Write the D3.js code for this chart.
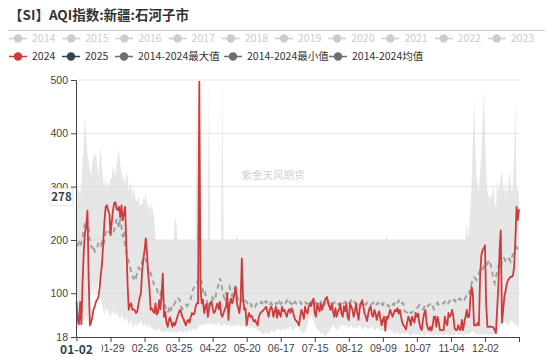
<!DOCTYPE html>
<html><head><meta charset="utf-8">
<script src="https://cdn.jsdelivr.net/npm/d3@7"></script>
<style>body{margin:0;background:#fff;}svg{display:block;font-family:"Noto Sans CJK SC","Open Sans",sans-serif;}</style>
</head><body><svg id="c" width="550" height="357"></svg>
<script>
const title = "【SI】AQI指数:新疆:石河子市";
const legendRow1 = ["2014","2015","2016","2017","2018","2019","2020","2021","2022","2023"];
const legendRow2 = ["2024","2025","2014-2024最大值","2014-2024最小值","2014-2024均值"];
const xTickLabels = ["01-02","01-29","02-26","03-25","04-22","05-20","06-17","07-15","08-12","09-09","10-07","11-04","12-02"];
const yTicks = [18,100,200,300,400,500];
const pointerX = "01-02";
const pointerY = 278;
const watermark = "紫金天风期货";

const s2024 = [84,50,42,84,42,120,180,215,225,255,
130,40,45,56,70,75,84,88,93,110,
135,155,195,235,262,265,255,250,209,234,
255,269,271,258,256,262,243,265,237,250,
262,190,118,69,78,81,69,70,68,63,
66,80,92,100,143,165,180,203,175,135,
110,69,72,66,63,81,60,64,87,70,
100,137,56,65,45,37,50,55,45,37,
45,40,48,56,62,69,65,56,52,45,
40,48,50,45,56,63,60,62,75,81,
81,497,112,81,88,63,75,80,56,70,
81,85,72,63,66,75,81,70,84,60,
56,63,70,75,100,50,81,90,81,88,
100,112,81,72,63,85,165,93,69,72,
40,55,63,56,58,52,47,50,44,40,
56,62,65,66,69,72,75,66,56,69,
75,70,56,66,75,54,69,62,56,75,
66,69,62,56,66,70,63,72,66,56,
50,48,45,40,56,69,62,52,75,66,
62,75,81,76,85,90,62,56,81,72,
66,81,69,78,85,90,93,81,75,69,
81,66,56,72,56,66,69,81,62,56,
76,66,81,56,50,81,75,69,56,66,
81,63,50,72,81,87,75,62,56,48,
62,72,75,60,56,69,62,50,60,66,
52,40,50,56,30,56,52,60,69,62,
56,63,69,66,72,62,69,56,45,40,
37,32,45,56,50,40,56,50,45,63,
56,62,45,35,31,50,62,69,45,35,
31,37,30,40,56,56,37,56,45,31,
31,31,31,56,45,40,63,56,60,69,
56,35,31,31,40,33,31,50,31,45,
56,69,55,56,90,112,100,40,40,40,
45,40,131,171,181,184,190,80,37,37,
38,37,37,36,31,25,69,112,180,218,
45,69,95,105,118,125,128,131,131,133,
150,200,262,237,258];

const sMean = [192,190,195,188,196,205,220,232,228,235,
225,195,188,185,190,178,180,185,196,195,
190,195,188,200,215,218,213,216,214,210,
212,218,230,240,232,222,245,225,205,215,
190,178,165,160,150,140,132,128,135,130,
140,148,145,150,158,165,168,162,155,140,
135,138,130,122,115,112,110,100,95,98,
104,92,85,75,68,64,70,63,72,80,
78,82,88,92,90,87,75,70,72,74,
78,76,80,82,90,100,108,112,116,118,
125,130,126,120,105,95,100,90,72,78,
85,88,92,86,90,100,110,118,128,120,
105,95,90,100,98,106,112,100,95,105,
110,100,96,88,90,92,88,84,90,86,
84,80,78,82,76,80,78,75,80,76,
78,80,84,82,88,85,82,86,84,80,
82,78,80,84,80,82,78,84,80,82,
80,84,82,86,80,84,82,80,86,82,
84,80,78,82,84,80,82,86,84,80,
82,86,80,84,88,82,80,84,86,82,
80,84,86,82,78,84,90,86,82,80,
84,80,82,86,84,80,78,82,84,80,
82,84,80,78,82,84,86,80,82,84,
80,82,84,78,80,84,82,80,78,82,
80,76,78,80,82,78,76,80,82,78,
76,80,78,82,80,76,78,75,80,82,
80,78,84,80,82,86,80,78,82,80,
66,65,64,68,66,63,64,66,68,70,
72,74,78,76,72,70,74,78,80,76,
78,80,82,76,70,74,78,82,78,76,
78,80,82,84,80,78,82,86,84,82,
86,88,84,82,86,90,88,92,90,88,
92,96,94,100,112,118,125,130,128,125,
131,138,143,140,145,150,153,158,155,160,
162,150,140,125,119,131,140,150,153,148,
162,168,165,160,158,163,165,160,168,172,
175,180,187,184,186];

const sMax = [295,300,290,285,310,340,380,430,400,360,
350,330,320,345,360,355,365,340,320,350,
380,330,310,300,320,290,310,300,320,315,
340,330,320,345,360,370,340,330,310,320,
300,330,320,290,300,310,280,300,290,270,
275,280,260,270,265,280,275,290,270,260,
265,255,270,250,240,200,200,200,200,200,
200,200,200,200,200,200,200,200,200,200,
200,240,235,200,200,200,200,200,200,200,
200,200,200,200,200,200,200,200,200,500,
200,497,200,200,200,200,200,200,200,500,
200,200,200,200,200,200,200,200,200,200,
500,200,200,200,200,200,200,200,200,200,
200,200,210,200,200,200,200,200,200,200,
200,200,200,200,200,200,200,200,200,200,
200,200,200,200,200,200,200,200,200,200,
200,200,200,200,200,200,200,200,200,200,
200,200,200,200,200,200,200,200,200,200,
200,200,200,200,200,200,200,200,200,200,
200,200,200,200,200,200,200,200,200,200,
200,200,200,200,200,200,200,200,200,200,
200,200,200,200,200,200,200,200,200,200,
200,200,200,200,200,200,200,200,200,200,
200,200,200,200,200,200,200,200,200,200,
200,200,200,200,200,200,200,200,200,200,
200,200,200,200,200,210,200,200,200,200,
200,200,200,200,200,200,200,200,200,200,
200,200,200,200,200,200,200,200,200,200,
200,200,200,200,200,200,200,200,200,200,
200,200,200,200,200,200,200,200,200,200,
200,200,200,200,200,200,200,200,200,200,
200,200,200,200,200,200,200,200,200,200,
200,237,200,230,260,300,380,470,380,320,
300,290,330,360,420,480,400,330,290,280,
285,275,290,300,270,260,310,290,300,320,
330,300,290,310,280,300,330,310,290,300,
360,460,300,290,300];

const sMin = [40,30,35,45,60,50,40,55,60,45,
70,110,90,120,100,115,95,110,125,105,
90,80,70,60,75,65,70,60,55,65,
60,70,55,65,60,55,50,60,55,50,
45,55,50,40,45,50,40,35,45,40,
38,45,40,50,42,38,45,40,35,42,
40,35,38,30,35,28,32,30,35,28,
30,25,28,32,26,30,28,24,30,26,
28,30,25,28,32,26,30,28,25,30,
28,26,30,32,28,30,35,32,30,34,
36,40,42,38,40,45,42,40,44,42,
40,45,42,38,44,40,42,46,40,38,
42,40,44,38,40,42,38,40,36,40,
42,38,40,44,40,36,42,40,38,36,
38,40,36,34,38,35,32,36,34,30,
32,28,26,24,22,25,28,24,22,26,
28,30,26,28,32,30,34,30,28,32,
34,30,32,36,30,34,38,32,30,34,
36,40,38,34,30,28,26,24,28,32,
40,50,56,60,52,48,40,36,32,30,
28,24,26,22,20,18,22,26,30,34,
36,40,38,34,32,30,36,40,38,42,
40,38,42,36,34,38,40,36,34,38,
36,34,38,40,36,34,32,36,38,34,
32,34,36,38,34,30,32,34,36,32,
30,28,32,30,28,26,30,32,28,30,
28,26,24,26,28,24,22,24,26,24,
22,24,26,24,22,20,22,24,26,22,
24,22,20,24,26,22,20,22,24,26,
22,20,24,22,20,22,24,22,20,22,
24,22,20,22,24,26,22,20,24,22,
20,22,24,26,22,20,24,22,20,22,
24,26,22,24,26,28,30,26,24,22,
24,22,20,24,22,20,22,24,22,20,
22,24,20,22,24,26,30,34,38,42,
40,44,48,46,42,40,44,48,50,46,
42,40,44,38,36];

const N = s2024.length;
const idx = d3.range(N);
const tickEvery = 28;

const svg = d3.select("#c");
const x = d3.scalePoint().domain(idx).range([76.5, 519]);
const y = d3.scaleLinear().domain([18, 500]).range([337, 80]);

// title
svg.append("text").attr("x", 9).attr("y", 20).attr("font-size", 13.5).attr("font-weight", "bold")
  .attr("fill", "#333").text(title);
svg.append("line").attr("x1", 8).attr("x2", 545).attr("y1", 30.5).attr("y2", 30.5)
  .attr("stroke", "#ccc").attr("stroke-width", 1);

// legend
function legendItem(cx, cy, label, color, textColor) {
  const g = svg.append("g");
  g.append("line").attr("x1", cx - 9).attr("x2", cx + 9).attr("y1", cy).attr("y2", cy)
    .attr("stroke", color).attr("stroke-width", 1.5);
  g.append("circle").attr("cx", cx).attr("cy", cy).attr("r", 4.2).attr("fill", color);
  g.append("text").attr("x", cx + 14).attr("y", cy + 3.8).attr("font-size", 10.5)
    .attr("fill", textColor).text(label);
}
legendRow1.forEach((l, k) => legendItem(18 + 53.2 * k, 38.5, l, "#ccc", "#ccc"));
const row2Centers = [18, 71, 124, 233, 338];
const row2Colors = ["#d0393a", "#2f4554", "#6e6e6e", "#6e6e6e", "#6e6e6e"];
legendRow2.forEach((l, k) => legendItem(row2Centers[k], 56.5, l, row2Colors[k], "#333"));

// gridlines
const plot = svg.append("g");
plot.selectAll("line.grid").data(yTicks.filter(t => t !== 18)).join("line")
  .attr("x1", 76).attr("x2", 520).attr("y1", d => y(d)).attr("y2", d => y(d))
  .attr("stroke", "#e6e6e6").attr("stroke-width", 1);

// band between min and max
const band = d3.area().x(i => x(i)).y0(i => y(sMin[i])).y1(i => y(sMax[i]));
plot.append("path").datum(idx).attr("d", band).attr("fill", "#d6d6d6").attr("fill-opacity", 0.62);

// watermark
svg.append("text").attr("x", 273).attr("y", 179).attr("text-anchor", "middle")
  .attr("font-size", 10.5).attr("fill", "#d2d2d2").text(watermark);

// mean dashed
const lineOf = arr => d3.line().x(i => x(i)).y(i => y(arr[i]));
plot.append("path").datum(idx).attr("d", lineOf(sMean)).attr("fill", "none")
  .attr("stroke", "#a0a0a0").attr("stroke-width", 2).attr("stroke-dasharray", "5,4");

// 2024 line
plot.append("path").datum(idx).attr("d", lineOf(s2024)).attr("fill", "none")
  .attr("stroke", "#cf3b3c").attr("stroke-width", 1.8).attr("stroke-linejoin", "round");

// axes
const yAxis = d3.axisLeft(y).tickValues(yTicks).tickSize(5).tickPadding(3);
const gy = svg.append("g").attr("transform", "translate(76,0)").call(yAxis);
gy.select(".domain").attr("stroke", "#444");
gy.selectAll(".tick line").attr("stroke", "#444");
gy.selectAll(".tick text").attr("font-size", 10.5).attr("fill", "#444").attr("font-family", null);

const xAxis = d3.axisBottom(x).tickValues(idx.filter(i => i % tickEvery === 0))
  .tickFormat(i => i === 0 ? "" : xTickLabels[i / tickEvery]).tickSize(5).tickSizeOuter(0).tickPadding(3);
const gx = svg.append("g").attr("transform", "translate(0,337)").call(xAxis);
gx.select(".domain").attr("stroke", "#444");
gx.selectAll(".tick line").attr("stroke", "#444");
gx.selectAll(".tick text").attr("font-size", 10.5).attr("fill", "#444").attr("font-family", null);

// axis pointer labels (x pointer label replaces the first tick label)
const px = x(xTickLabels.indexOf(pointerX) * tickEvery);
svg.append("rect").attr("x", px - 25).attr("y", 341).attr("width", 50).attr("height", 16).attr("fill", "#fff");
svg.append("text").attr("x", px).attr("y", 354).attr("text-anchor", "middle").attr("font-size", 12)
  .attr("font-weight", "bold").attr("fill", "#2f4554").text(pointerX);

const py = y(pointerY);
svg.append("rect").attr("x", 50).attr("y", py - 10).attr("width", 23).attr("height", 17)
  .attr("fill", "#fff").attr("stroke", "#ddd").attr("stroke-width", 0.8);
svg.append("text").attr("x", 61.5).attr("y", py + 3).attr("text-anchor", "middle").attr("font-size", 11.5)
  .attr("font-weight", "bold").attr("fill", "#2f4554").text(pointerY);
</script></body></html>
